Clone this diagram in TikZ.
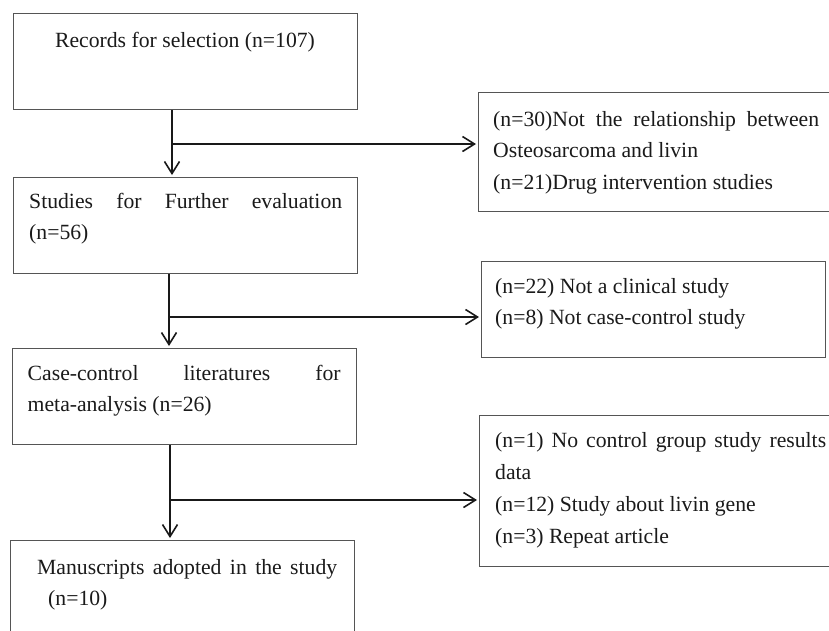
\documentclass[tikz,border=0pt]{standalone}
\usepackage{fontspec}
\setmainfont{Liberation Serif}
\usetikzlibrary{arrows.meta}
\definecolor{boxline}{HTML}{555555}
\definecolor{ink}{HTML}{1A1A1A}
\begin{document}
\begin{tikzpicture}[x=1pt,y=-1pt,
  box/.style={draw=boxline, line width=1.1pt, inner sep=0pt, anchor=north west,
              minimum width=344pt, minimum height=96pt},
  txt/.style={inner sep=0pt, anchor=base west, text=ink,
              font=\fontsize{21.7pt}{31.5pt}\selectfont},
  conn/.style={draw=black!90, line width=1.6pt,
               -{Straight Barb[length=12pt,width=15pt,line width=1.6pt]}, shorten >=2pt}
]
\useasboundingbox (0,0) rectangle (829,630);
\clip (0,0) rectangle (829,630);

% boxes
\node[box] (b1) at (13,13) {};
\node[box] (b2) at (13,177) {};
\node[box] (b3) at (12,348) {};
\node[box, minimum height=110pt] (b4) at (10,540) {};
\node[box, minimum width=360pt, minimum height=119pt] (r1) at (478,92) {};
\node[box] (r2) at (481,261) {};
\node[box, minimum width=360pt, minimum height=151pt] (r3) at (479,415) {};

% texts
\node[txt, anchor=base] (t1) at (185,47) {Records for selection (n=107)};
\node[txt] (t2) at (29,208) {\parbox[t]{313pt}{\makebox[313pt][s]{Studies for Further evaluation}\\(n=56)}};
\node[txt] (t3) at (27.5,380) {\parbox[t]{313pt}{\makebox[313pt][s]{Case-control literatures for}\\meta-analysis (n=26)}};
\node[txt] (t4) at (37,574) {\parbox[t]{300pt}{\makebox[300pt][s]{Manuscripts adopted in the study}\\\hspace*{11pt}(n=10)}};
\node[txt] (s1) at (493,126) {\parbox[t]{326pt}{\makebox[326pt][s]{(n=30)Not the relationship between}\\Osteosarcoma and livin\\(n=21)Drug intervention studies}};
\node[txt] (s2) at (495,293) {\parbox[t]{320pt}{(n=22) Not a clinical study\\(n=8) Not case-control study}};
\node[txt, font=\fontsize{21.7pt}{32pt}\selectfont] (s3) at (495,447) {\parbox[t]{331pt}{\makebox[331pt][s]{(n=1) No control group study results}\\data\\(n=12) Study about livin gene\\(n=3) Repeat article}};

% junction points
\coordinate (j1) at (172,144);
\coordinate (j2) at (169,317);
\coordinate (j3) at (170,500);

% connectors
\draw[conn] (b1.south -| j1) -- (b2.north -| j1);
\draw[conn] (j1) -- (r1.west |- j1);
\draw[conn] (b2.south -| j2) -- (b3.north -| j2);
\draw[conn] (j2) -- (r2.west |- j2);
\draw[conn] (b3.south -| j3) -- (b4.north -| j3);
\draw[conn] (j3) -- (r3.west |- j3);
\end{tikzpicture}
\end{document}
